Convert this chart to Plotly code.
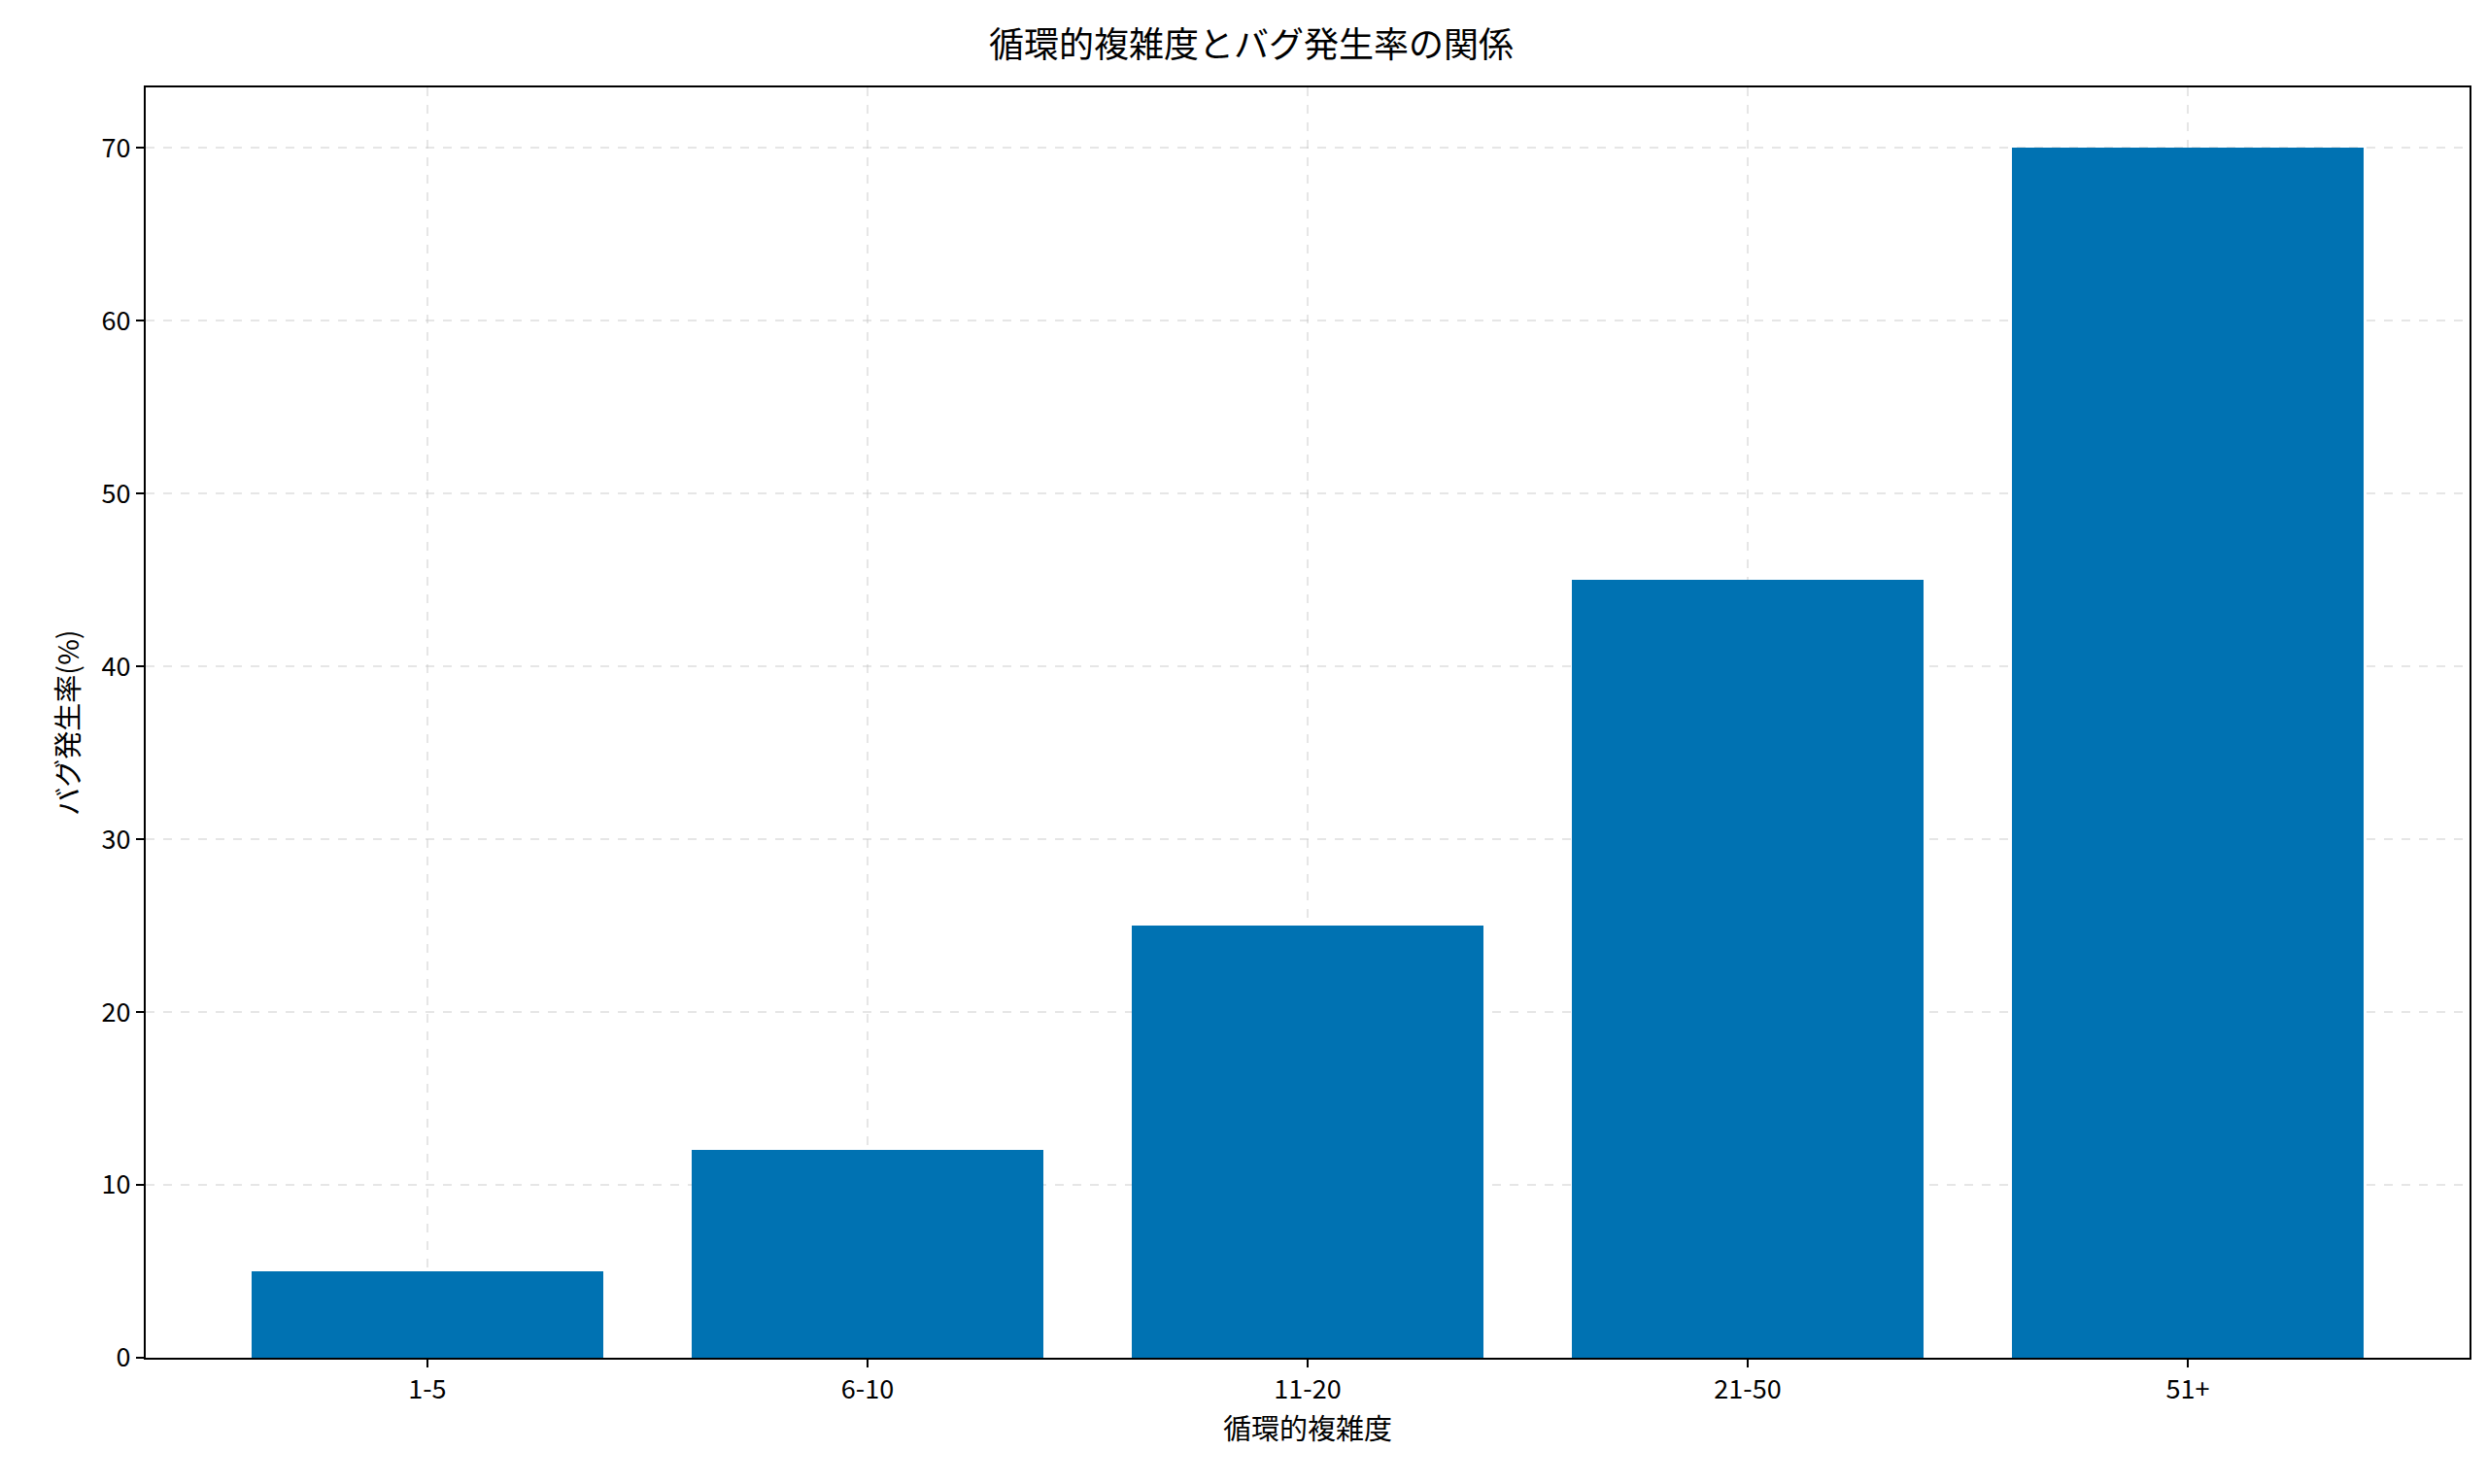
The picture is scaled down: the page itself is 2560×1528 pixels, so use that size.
import plotly.graph_objects as go

categories = ["1-5", "6-10", "11-20", "21-50", "51+"]
bug_rate = [5, 12, 25, 45, 70]
y_ticks = [0, 10, 20, 30, 40, 50, 60, 70]

font = "Noto Sans CJK JP"
fig = go.Figure(go.Bar(x=list(range(len(categories))), y=bug_rate, width=0.8,
                       marker=dict(color="#0072B2", line=dict(width=0))))
grid = dict(showgrid=True, gridcolor="rgba(200,200,200,0.45)", griddash="dash", gridwidth=2,
            layer="above traces", showline=True, linecolor="black", linewidth=2, mirror=True,
            ticks="outside", ticklen=8, tickwidth=2, tickcolor="black", zeroline=False,
            tickfont=dict(size=27, color="black", family=font))
fig.update_layout(
    width=2560, height=1528, plot_bgcolor="white", paper_bgcolor="white",
    margin=dict(l=142, r=26, t=82, b=138),
    font=dict(family=font, color="black"),
    title=dict(text="循環的複雑度とバグ発生率の関係", x=0.5, xanchor="center", y=0.975,
               yanchor="middle", font=dict(size=36, family=font)),
    xaxis=dict(grid, range=[-0.64, 4.64], tickvals=list(range(len(categories))),
               ticktext=categories, title=dict(text="循環的複雑度", font=dict(size=29), standoff=14)),
    yaxis=dict(grid, range=[0, 73.5], tickvals=y_ticks,
               title=dict(text="バグ発生率(%)", font=dict(size=29), standoff=14)),
    bargap=0,
)
fig.write_html("out.html")
